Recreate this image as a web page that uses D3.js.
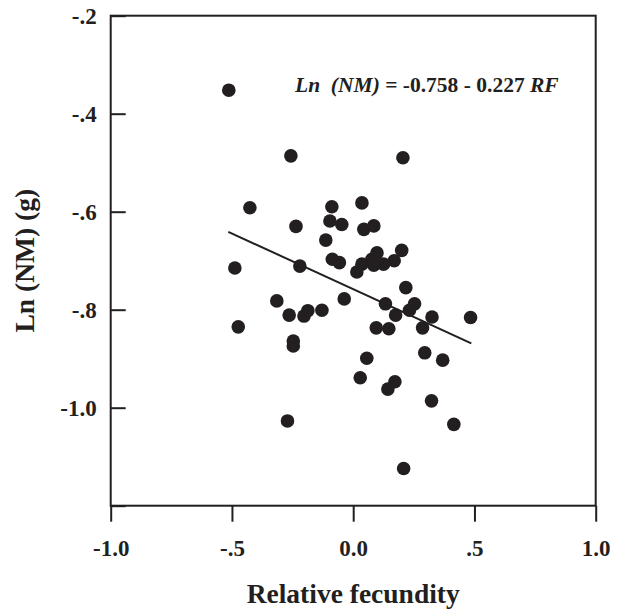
<!DOCTYPE html>
<html>
<head>
<meta charset="utf-8">
<script src="https://cdn.jsdelivr.net/npm/d3@7"></script>
<style>
  html, body { margin: 0; padding: 0; background: #fff; }
  svg { display: block; }
  text { font-family: "Liberation Serif", "Times New Roman", serif; font-weight: bold; fill: #231f20; }
</style>
</head>
<body>
<script>
// ---- data ----
const relFecundity = [
  -0.513, -0.257, 0.205, -0.426, -0.088, 0.036, -0.096, -0.047, -0.236, 0.044,
  0.085, -0.113, -0.488, -0.220, -0.086, -0.057, 0.015, 0.036, 0.077, 0.098,
  0.125, 0.169, 0.200, 0.085, 0.217, -0.315, -0.264, -0.203, -0.187, -0.129,
  -0.037, 0.133, 0.175, 0.232, 0.253, 0.325, 0.484, 0.095, 0.147, 0.286,
  -0.474, -0.247, -0.247, 0.056, 0.295, 0.369, 0.029, 0.172, 0.143, 0.323,
  -0.271, 0.415, 0.208
];
const lnNM = [
  -0.352, -0.486, -0.490, -0.592, -0.590, -0.582, -0.619, -0.626, -0.630, -0.636,
  -0.629, -0.658, -0.715, -0.711, -0.697, -0.704, -0.723, -0.707, -0.697, -0.684,
  -0.707, -0.700, -0.679, -0.709, -0.755, -0.782, -0.811, -0.813, -0.802, -0.801,
  -0.778, -0.788, -0.811, -0.801, -0.788, -0.815, -0.816, -0.837, -0.839, -0.837,
  -0.835, -0.864, -0.874, -0.899, -0.888, -0.903, -0.939, -0.947, -0.962, -0.986,
  -1.027, -1.034, -1.124
];
const fitIntercept = -0.758;
const fitSlope = -0.227;
const fitRange = [-0.515, 0.487];

const xTicks = [-1.0, -0.5, 0.0, 0.5, 1.0];
const xTickLabels = ["-1.0", "-.5", "0.0", ".5", "1.0"];
const yTicks = [-0.2, -0.4, -0.6, -0.8, -1.0, -1.2];
const yTickLabels = ["-.2", "-.4", "-.6", "-.8", "-1.0", ""];

const xTitle = "Relative fecundity";
const yTitle = "Ln (NM) (g)";

// ---- layout ----
const W = 618, H = 610;
const L = 110.7, R = 595.7, T = 15.7, B = 505.7;
const ink = "#231f20";

const svg = d3.select("body").append("svg").attr("width", W).attr("height", H);

const x = d3.scaleLinear().domain([-1.0, 1.0]).range([L, R]);
const y = d3.scaleLinear().domain([-1.2, -0.2]).range([B, T]);

// frame
svg.append("rect")
  .attr("x", L).attr("y", T).attr("width", R - L).attr("height", B - T)
  .attr("fill", "none").attr("stroke", ink).attr("stroke-width", 2);

// x axis (ticks outward)
const xAxis = svg.append("g")
  .attr("transform", `translate(0,${B})`)
  .call(d3.axisBottom(x).tickValues(xTicks)
    .tickFormat((d, i) => xTickLabels[i]).tickSize(16).tickSizeOuter(0).tickPadding(18));
xAxis.select(".domain").remove();
xAxis.selectAll(".tick line").attr("stroke", ink).attr("stroke-width", 2);
xAxis.selectAll(".tick text").attr("font-size", 23).attr("font-family", "Liberation Serif").attr("font-weight", "bold").attr("fill", ink);

// y axis (ticks inward)
const yAxis = svg.append("g")
  .attr("transform", `translate(${L},0)`)
  .call(d3.axisLeft(y).tickValues(yTicks)
    .tickFormat((d, i) => yTickLabels[i]).tickSize(-15).tickSizeOuter(0).tickPadding(14));
yAxis.select(".domain").remove();
yAxis.selectAll(".tick line").attr("stroke", ink).attr("stroke-width", 2);
yAxis.selectAll(".tick text").attr("font-size", 23).attr("font-family", "Liberation Serif").attr("font-weight", "bold").attr("fill", ink)
  .attr("x", -14);

// regression line
const fitPts = fitRange.map(v => [v, fitIntercept + fitSlope * v]);
svg.append("path")
  .datum(fitPts)
  .attr("d", d3.line().x(d => x(d[0])).y(d => y(d[1])))
  .attr("fill", "none").attr("stroke", ink).attr("stroke-width", 2);

// points
svg.append("g").selectAll("circle")
  .data(relFecundity.map((v, i) => [v, lnNM[i]]))
  .join("circle")
  .attr("cx", d => x(d[0])).attr("cy", d => y(d[1]))
  .attr("r", 6.8).attr("fill", ink);

// equation
const eq = svg.append("text")
  .attr("x", 295).attr("y", 92).attr("font-size", 21.5);
eq.append("tspan").attr("font-style", "italic").text("Ln\u00a0\u00a0(NM)");
eq.append("tspan").text(" = -0.758 - 0.227 ");
eq.append("tspan").attr("font-style", "italic").text("RF");

// axis titles
svg.append("text")
  .attr("x", (L + R) / 2).attr("y", 603)
  .attr("text-anchor", "middle").attr("font-size", 27.5)
  .text(xTitle);

svg.append("text")
  .attr("transform", `translate(34,${(T + B) / 2}) rotate(-90)`)
  .attr("text-anchor", "middle").attr("font-size", 27.5)
  .text(yTitle);
</script>
</body>
</html>
